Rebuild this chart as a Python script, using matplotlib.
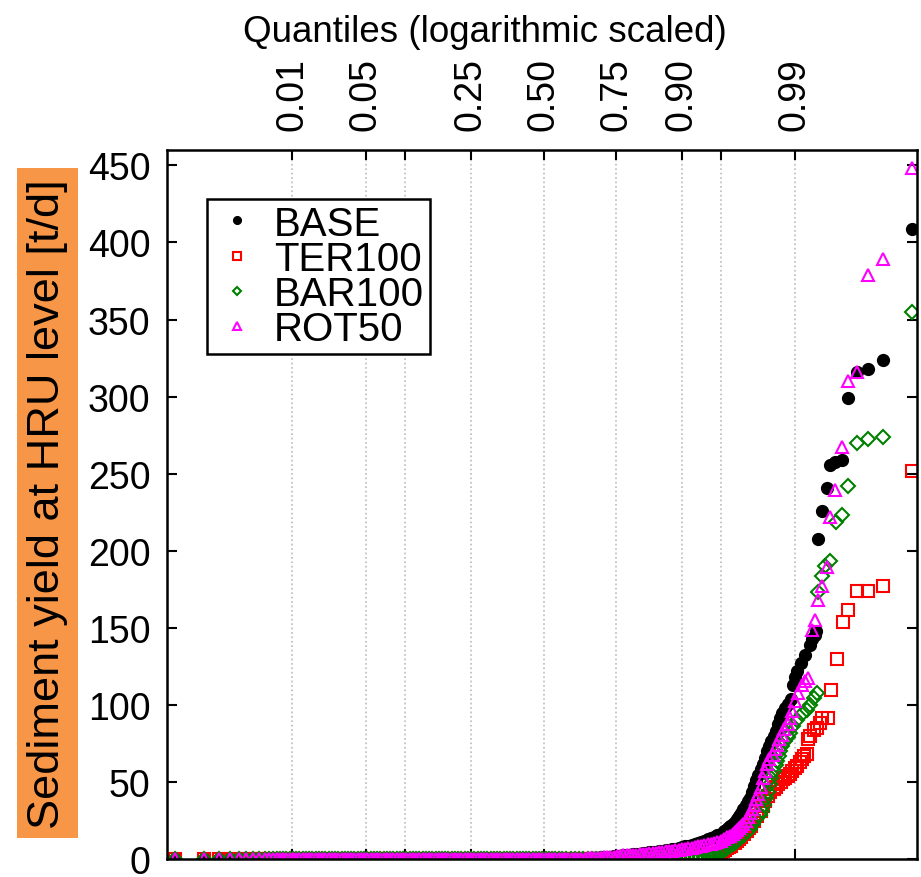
"""Quantile plot of sediment yield at HRU level for four scenarios."""

from statistics import NormalDist

import matplotlib

matplotlib.use("Agg")
import matplotlib.pyplot as plt  # noqa: E402

plt.rcParams["font.family"] = ["Liberation Sans", "DejaVu Sans"]

# x positions are standard normal scores (probability axis), y in t/d
# lower part, where all four scenarios are practically zero
FLAT_Z = [-3.41, -3.14, -3.00, -2.90, -2.82, -2.75, -2.69, -2.63, -2.58, -2.54, -2.50,
          -2.47, -2.44, -2.41, -2.38, -2.35, -2.32, -2.29, -2.26, -2.23, -2.20,
          -2.17, -2.14, -2.11, -2.08, -2.05, -2.02, -1.99, -1.96, -1.93, -1.90,
          -1.87, -1.84, -1.81, -1.78, -1.75, -1.72, -1.69, -1.66, -1.63, -1.60,
          -1.57, -1.54, -1.51, -1.48, -1.45, -1.42, -1.39, -1.36, -1.33, -1.30,
          -1.27, -1.24, -1.21, -1.18, -1.15, -1.12, -1.09, -1.06, -1.03, -1.00,
          -0.97, -0.94, -0.91, -0.88, -0.85, -0.82, -0.79, -0.76, -0.73, -0.70,
          -0.67, -0.64, -0.61, -0.58, -0.55, -0.52, -0.49, -0.46, -0.43, -0.40,
          -0.37, -0.34, -0.31, -0.28, -0.25, -0.22, -0.19, -0.16, -0.13, -0.10,
          -0.07, -0.04, -0.01, 0.02, 0.05, 0.08, 0.11, 0.14]
FLAT_Y = [0.0, 0.0, 0.0, 0.0, 0.0, 0.0, 0.0, 0.0, 0.0, 0.0, 0.0,
          0.0, 0.0, 0.0, 0.0, 0.0, 0.0, 0.0, 0.0, 0.0, 0.0, 0.0,
          0.0, 0.0, 0.0, 0.0, 0.0, 0.0, 0.0, 0.0, 0.0, 0.0, 0.0,
          0.0, 0.0, 0.0, 0.0, 0.0, 0.0, 0.0, 0.0, 0.0, 0.0, 0.0,
          0.0, 0.0, 0.0, 0.0, 0.0, 0.0, 0.0, 0.0, 0.0, 0.0, 0.0,
          0.0, 0.0, 0.0, 0.0, 0.0, 0.0, 0.0, 0.0, 0.0, 0.0, 0.0,
          0.0, 0.0, 0.0, 0.0, 0.0, 0.0, 0.0, 0.0, 0.0, 0.0, 0.0,
          0.0, 0.0, 0.0, 0.0, 0.0, 0.0, 0.0, 0.0, 0.0, 0.0, 0.0,
          0.0, 0.0, 0.0, 0.0, 0.0, 0.0, 0.0, 0.0, 0.0, 0.0, 0.0]

BASE_Z = [0.17, 0.20, 0.23, 0.26, 0.29, 0.32, 0.35, 0.38, 0.41, 0.44,
          0.47, 0.50, 0.53, 0.56, 0.59, 0.62, 0.65, 0.68, 0.71, 0.74,
          0.77, 0.80, 0.83, 0.86, 0.89, 0.92, 0.95, 0.98, 1.01, 1.04,
          1.07, 1.10, 1.13, 1.16, 1.19, 1.22, 1.25, 1.28, 1.31, 1.34,
          1.37, 1.40, 1.43, 1.46, 1.49, 1.52, 1.55, 1.58, 1.61, 1.64,
          1.67, 1.69, 1.71, 1.73, 1.75, 1.77, 1.79, 1.81, 1.83, 1.85,
          1.87, 1.89, 1.91, 1.93, 1.95, 1.97, 1.99, 2.01, 2.03, 2.05,
          2.07, 2.09, 2.11, 2.13, 2.15, 2.17, 2.19, 2.21, 2.24, 2.26,
          2.29, 2.31, 2.33, 2.35, 2.38, 2.42, 2.47, 2.49, 2.51, 2.52,
          2.54, 2.58, 2.62, 2.65, 2.70, 2.76, 2.82, 2.90, 3.00, 3.14,
          3.41]
BASE_Y = [0.1, 0.2, 0.2, 0.3, 0.3, 0.4, 0.5, 0.6, 0.8, 0.9,
          1.0, 1.1, 1.3, 1.4, 1.6, 1.8, 2.0, 2.2, 2.4, 2.6,
          2.9, 3.1, 3.4, 3.6, 3.8, 4.1, 4.4, 4.6, 4.8, 5.0,
          5.3, 5.6, 5.9, 6.2, 6.6, 7.0, 7.4, 7.8, 8.4, 8.9,
          9.4, 10.0, 10.6, 11.4, 12.2, 13.0, 13.9, 14.8, 15.7, 16.8,
          18.2, 19.3, 20.4, 21.6, 22.8, 24.5, 26.4, 28.4, 30.4, 32.6,
          35.0, 38.0, 40.0, 43.5, 47.5, 51.5, 55.0, 58.5, 62.0, 66.0,
          70.0, 73.5, 77.0, 80.0, 83.0, 88.0, 92.0, 95.0, 98.0, 101.0,
          104.0, 113.3, 118.0, 122.0, 127.3, 132.7, 139.0, 143.0, 145.6, 147.8,
          208.0, 226.0, 241.0, 255.5, 257.5, 258.8, 299.0, 316.0, 318.0, 323.5,
          408.5]

TER_Z = [0.17, 0.21, 0.25, 0.29, 0.33, 0.37, 0.41, 0.45, 0.49, 0.53,
         0.57, 0.61, 0.65, 0.69, 0.73, 0.77, 0.81, 0.85, 0.89, 0.93,
         0.97, 1.01, 1.05, 1.09, 1.13, 1.17, 1.21, 1.25, 1.29, 1.33,
         1.37, 1.41, 1.45, 1.49, 1.53, 1.57, 1.60, 1.62, 1.64, 1.66,
         1.68, 1.70, 1.72, 1.74, 1.77, 1.79, 1.81, 1.83, 1.86, 1.88,
         1.90, 1.92, 1.95, 1.98, 2.01, 2.03, 2.05, 2.08, 2.10, 2.13,
         2.15, 2.17, 2.20, 2.22, 2.24, 2.26, 2.28, 2.30, 2.33, 2.35,
         2.37, 2.39, 2.41, 2.44, 2.45, 2.47, 2.50, 2.53, 2.56, 2.58,
         2.63, 2.66, 2.72, 2.77, 2.82, 2.90, 3.00, 3.14, 3.41]
TER_Y = [0.0, 0.0, 0.1, 0.1, 0.1, 0.1, 0.2, 0.2, 0.2, 0.2,
         0.3, 0.3, 0.3, 0.4, 0.4, 0.5, 0.5, 0.6, 0.6, 0.7,
         0.8, 0.8, 0.9, 1.0, 1.0, 1.1, 1.2, 1.3, 1.4, 1.5,
         1.7, 1.8, 2.0, 2.2, 2.4, 2.6, 3.3, 4.0, 4.8, 5.6,
         6.4, 7.2, 8.1, 9.0, 10.5, 12.0, 13.2, 14.5, 16.5, 18.5,
         20.2, 22.0, 25.0, 28.2, 31.5, 34.7, 38.0, 41.2, 43.5, 45.4,
         47.0, 48.7, 50.5, 51.9, 53.0, 54.0, 55.5, 57.3, 59.0, 60.5,
         63.3, 65.0, 67.0, 68.5, 77.8, 80.0, 83.6, 85.3, 88.6, 91.8,
         91.8, 110.0, 130.0, 154.0, 162.0, 174.0, 174.0, 177.0, 252.0]

BAR_Z = [0.17, 0.21, 0.25, 0.29, 0.33, 0.37, 0.41, 0.45, 0.49, 0.53,
         0.57, 0.61, 0.65, 0.69, 0.73, 0.77, 0.81, 0.85, 0.89, 0.93,
         0.97, 1.01, 1.05, 1.09, 1.13, 1.17, 1.21, 1.25, 1.29, 1.33,
         1.37, 1.41, 1.45, 1.49, 1.52, 1.55, 1.58, 1.61, 1.63, 1.65,
         1.67, 1.69, 1.71, 1.73, 1.75, 1.77, 1.79, 1.82, 1.85, 1.88,
         1.91, 1.94, 1.97, 2.00, 2.02, 2.04, 2.06, 2.08, 2.10, 2.11,
         2.13, 2.15, 2.16, 2.18, 2.19, 2.21, 2.24, 2.26, 2.28, 2.31,
         2.35, 2.39, 2.44, 2.47, 2.50, 2.53, 2.54, 2.58, 2.61, 2.65,
         2.71, 2.76, 2.82, 2.90, 3.00, 3.14, 3.41]
BAR_Y = [0.0, 0.0, 0.1, 0.1, 0.1, 0.2, 0.2, 0.2, 0.3, 0.3,
         0.3, 0.4, 0.4, 0.5, 0.5, 0.6, 0.6, 0.7, 0.7, 0.8,
         0.8, 0.9, 0.9, 1.0, 1.0, 1.1, 1.2, 1.3, 1.4, 1.5,
         1.6, 1.7, 1.8, 1.9, 2.0, 2.4, 3.0, 3.8, 4.5, 5.2,
         6.0, 6.9, 7.8, 8.8, 9.9, 10.9, 12.0, 13.6, 15.3, 17.5,
         20.0, 22.8, 26.0, 29.0, 31.5, 35.5, 40.0, 44.0, 48.7, 53.0,
         57.3, 61.0, 63.8, 67.0, 70.2, 73.5, 76.7, 79.5, 82.0, 86.4,
         90.7, 94.0, 97.0, 100.4, 104.7, 108.0, 173.7, 183.8, 190.4, 193.5,
         218.5, 223.0, 242.0, 270.0, 272.5, 274.0, 354.7]

ROT_Z = [0.17, 0.20, 0.23, 0.26, 0.29, 0.32, 0.35, 0.38, 0.41, 0.44,
         0.47, 0.50, 0.53, 0.56, 0.59, 0.62, 0.65, 0.68, 0.71, 0.74,
         0.77, 0.80, 0.83, 0.86, 0.89, 0.92, 0.95, 0.98, 1.01, 1.04,
         1.07, 1.10, 1.13, 1.16, 1.19, 1.22, 1.25, 1.28, 1.31, 1.34,
         1.37, 1.40, 1.43, 1.46, 1.49, 1.52, 1.55, 1.58, 1.61, 1.64,
         1.67, 1.70, 1.73, 1.75, 1.77, 1.79, 1.81, 1.83, 1.85, 1.87,
         1.89, 1.91, 1.93, 1.95, 1.97, 1.99, 2.01, 2.03, 2.05, 2.07,
         2.09, 2.12, 2.14, 2.16, 2.18, 2.21, 2.23, 2.26, 2.28, 2.30,
         2.33, 2.36, 2.39, 2.42, 2.45, 2.49, 2.51, 2.54, 2.58, 2.62,
         2.65, 2.70, 2.76, 2.82, 2.90, 3.00, 3.14, 3.41]
ROT_Y = [0.1, 0.2, 0.2, 0.3, 0.3, 0.4, 0.5, 0.6, 0.7, 0.8,
         1.0, 1.1, 1.2, 1.4, 1.5, 1.7, 1.9, 2.2, 2.4, 2.6,
         2.8, 2.9, 3.0, 3.2, 3.4, 3.5, 3.7, 3.9, 4.1, 4.3,
         4.6, 4.9, 5.2, 5.4, 5.7, 6.0, 6.3, 6.6, 6.9, 7.3,
         7.7, 8.1, 8.5, 8.9, 9.3, 9.7, 10.1, 10.5, 11.0, 12.0,
         13.0, 14.3, 15.5, 16.4, 17.6, 19.0, 20.5, 21.6, 22.8, 25.0,
         27.5, 30.0, 32.5, 35.5, 39.0, 42.2, 47.0, 53.0, 57.5, 61.6,
         65.0, 68.0, 71.5, 74.5, 78.0, 81.0, 84.5, 87.5, 92.0, 96.0,
         102.6, 108.0, 113.0, 115.5, 117.6, 148.9, 155.3, 168.3, 177.6, 189.8,
         222.0, 239.4, 267.6, 310.5, 316.0, 379.0, 389.0, 448.4]

Q_TICKS = [0.01, 0.05, 0.10, 0.25, 0.50, 0.75, 0.90, 0.95, 0.99]
Q_LABELS = ["0.01", "0.05", "", "0.25", "0.50", "0.75", "0.90", "", "0.99"]
Y_TICKS = [0, 50, 100, 150, 200, 250, 300, 350, 400, 450]

fig = plt.figure(figsize=(9.21, 8.78), dpi=100)
ax = fig.add_axes([0.1813, 0.0200, 0.8144, 0.8081])

ax.plot(FLAT_Z + BASE_Z, FLAT_Y + BASE_Y, ls="none", marker="o", ms=8.5,
        color="black", label="BASE")
ax.plot(FLAT_Z + TER_Z, FLAT_Y + TER_Y, ls="none", marker="s", ms=8,
        mfc="none", mec="#ff0000", mew=1.5, label="TER100")
ax.plot(FLAT_Z + BAR_Z, FLAT_Y + BAR_Y, ls="none", marker="D", ms=6.8,
        mfc="none", mec="#008000", mew=1.5, label="BAR100")
ax.plot(FLAT_Z + ROT_Z, FLAT_Y + ROT_Y, ls="none", marker="^", ms=9,
        mfc="none", mec="#ff00ff", mew=1.5, label="ROT50")

nd = NormalDist()
ax.set_xticks([nd.inv_cdf(q) for q in Q_TICKS])
ax.set_xticklabels(Q_LABELS)
ax.set_xlim(-3.486, 3.458)
ax.set_ylim(0, 460)
ax.set_yticks(Y_TICKS)

ax.grid(axis="x", color="#bbbbbb", linestyle=":", linewidth=1.2)
ax.set_axisbelow(True)
ax.xaxis.set_ticks_position("both")
ax.yaxis.set_ticks_position("both")
ax.tick_params(axis="x", direction="in", length=7, width=1.5, labeltop=True,
               labelbottom=False, labelrotation=90, labelsize=27, pad=14)
ax.tick_params(axis="y", direction="in", length=7, width=1.5, labelsize=27,
               pad=12)
for sp in ax.spines.values():
    sp.set_linewidth(1.8)

fig.text(0.526, 0.963, "Quantiles (logarithmic scaled)", fontsize=26.5,
         ha="center", va="center")
fig.text(0.052, 0.426, "Sediment yield at HRU level [t/d]", fontsize=32.5,
         rotation=90, ha="center", va="center",
         bbox=dict(boxstyle="square,pad=0.22", fc="#f79646", ec="none"))

leg = ax.legend(loc="upper left", bbox_to_anchor=(0.0533, 0.931),
                borderaxespad=0, fontsize=29, markerscale=0.65,
                fancybox=False, framealpha=1, edgecolor="black",
                handlelength=1.23, handletextpad=0.3, labelspacing=-0.07,
                borderpad=0.14)
leg.get_frame().set_linewidth(1.8)

fig.savefig("out.png", dpi=100)
